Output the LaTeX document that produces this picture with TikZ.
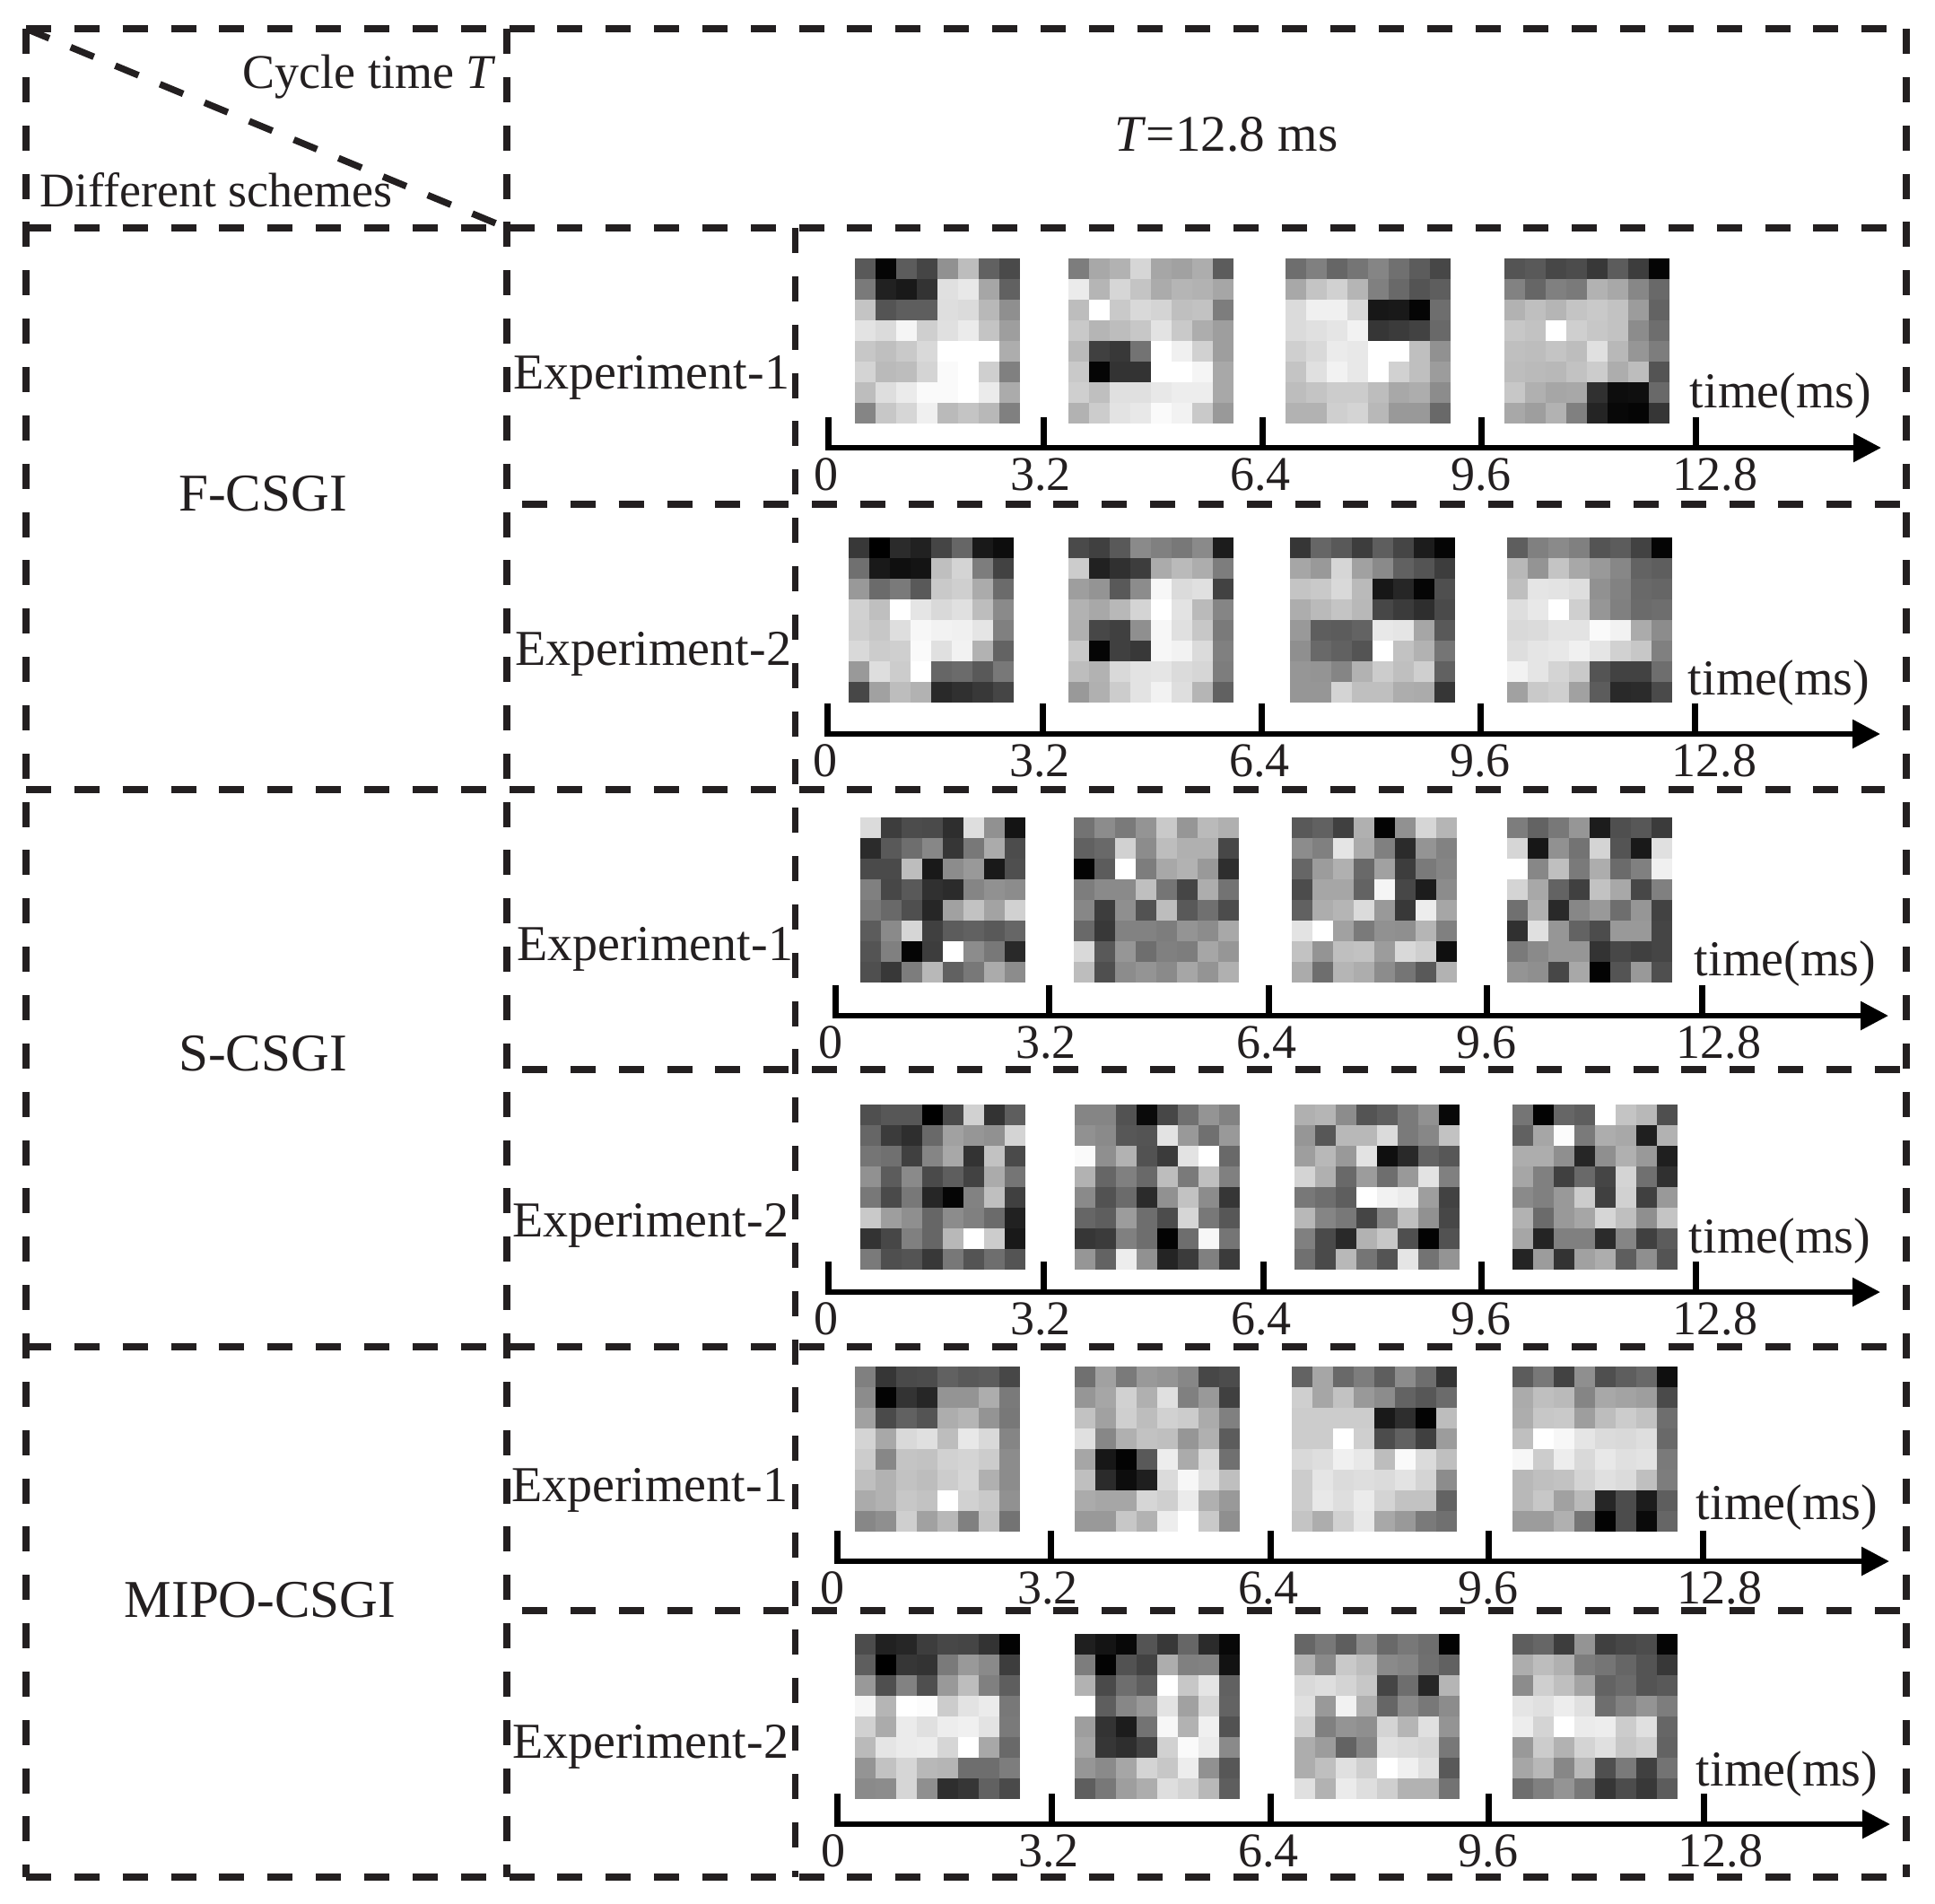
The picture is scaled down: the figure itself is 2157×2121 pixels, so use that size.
\documentclass[tikz,border=0pt]{standalone}
\usepackage{fontspec}
\setmainfont{Liberation Serif}
\usetikzlibrary{arrows.meta}
\definecolor{ink}{HTML}{231F20}
\tikzset{
  frameline/.style={draw=ink,line width=3.7pt,dash pattern=on 14pt off 12.925pt},
  axisline/.style={draw=black,line width=3pt,-{Triangle[length=15.5pt,width=15.5pt]}},
  tickline/.style={draw=black,line width=3.5pt},
  lbl/.style={inner sep=0pt,anchor=base,text=ink,font=\fontsize{28}{30}\selectfont},
  lblsmall/.style={lbl,font=\fontsize{27}{30}\selectfont},
  lblbig/.style={lbl,font=\fontsize{29.6}{32}\selectfont},
  lblmid/.style={lbl,font=\fontsize{28.6}{32}\selectfont},
}
\newcommand{\grayimg}[3]{%
  \foreach \v [count=\i from 0] in {#3} {%
    \pgfmathtruncatemacro\cx{mod(\i,8)}%
    \pgfmathtruncatemacro\cy{div(\i,8)}%
    \fill[white!\v!black] (#1+\cx*23,#2+\cy*23) rectangle ++(23.4,23.4);
  }}
\newcommand{\axtick}[6]{%
  \coordinate (tk#1#2a) at (#3,#4);
  \coordinate (tk#1#2b) at (#3,#4-34);
  \draw[tickline] (tk#1#2a) -- (tk#1#2b);
  \node[lblsmall] (lb#1#2) at (#3+#5,#4+47) {#6};
}
% row id, axis y, ticks t0..t3, tip x, zero label offset, 12.8 tick, 12.8 offset
\newcommand{\axisrow}[9]{%
  \coordinate (ax#1s) at (#3-3,#2);
  \coordinate (ax#1e) at (#7,#2);
  \draw[axisline] (ax#1s) -- (ax#1e);
  \axtick{#1}{a}{#3}{#2}{#8}{0}
  \axtick{#1}{b}{#4}{#2}{-3}{3.2}
  \axtick{#1}{c}{#5}{#2}{-2}{6.4}
  \axtick{#1}{d}{#6}{#2}{0}{9.6}
  \axtick{#1}{e}{#9}{#2}{\tlo}{12.8}
}
\begin{document}
\begin{tikzpicture}[x=0.5pt,y=-0.5pt]
\useasboundingbox (0,0) rectangle (2157,2121);
\fill[white] (0,0) rectangle (2157,2121);

% frame
\coordinate (tl) at (29,32); \coordinate (tm) at (565,32); \coordinate (tr) at (2125,32);
\coordinate (ml) at (29,254); \coordinate (mm) at (565,254); \coordinate (mr) at (2125,254);
\coordinate (bl) at (29,2092); \coordinate (bm) at (565,2092); \coordinate (br) at (2125,2092);
\coordinate (cx) at (886.5,254); \coordinate (cb) at (886.5,2092);
\draw[frameline] (tl) -- (tr);
\draw[frameline] (ml) -- (mr);
\draw[frameline] (bl) -- (br);
\draw[frameline] (tl) -- (bl);
\draw[frameline] (tm) -- (bm);
\draw[frameline] (cx) -- (cb);
\draw[frameline] (tr) -- (br);
\draw[frameline] (tl) -- (mm);
\coordinate (h1a) at (582,562); \coordinate (h1b) at (2125,562);
\coordinate (h2a) at (29,880); \coordinate (h2b) at (2101,880);
\coordinate (h3a) at (582,1192); \coordinate (h3b) at (2125,1192);
\coordinate (h4a) at (29,1501); \coordinate (h4b) at (2125,1501);
\coordinate (h5a) at (582,1795); \coordinate (h5b) at (2125,1795);
\draw[frameline] (h1a) -- (h1b);
\draw[frameline] (h2a) -- (h2b);
\draw[frameline] (h3a) -- (h3b);
\draw[frameline] (h4a) -- (h4b);
\draw[frameline] (h5a) -- (h5b);

% header labels
\node[lblsmall] (cyc) at (412,98) {Cycle time \textit{T}};
\node[lblmid] (tval) at (1367,168) {\textit{T}=12.8 ms};
\node[lblsmall] (dif) at (241,230) {Different schemes};
\node[lblbig] (sa) at (293,569) {F-CSGI};
\node[lblbig] (sb) at (293,1193) {S-CSGI};
\node[lblbig] (sc) at (290,1802) {MIPO-CSGI};
\node[lbl] (e1) at (726,433) {Experiment-1};
\node[lbl] (e2) at (728,741) {Experiment-2};
\node[lbl] (e3) at (730,1070) {Experiment-1};
\node[lbl] (e4) at (725,1378) {Experiment-2};
\node[lbl] (e5) at (724,1673) {Experiment-1};
\node[lbl] (e6) at (725,1959) {Experiment-2};

% axes
\def\tlo{22}
\axisrow{A}{499}{923}{1163}{1407}{1651}{2097}{-2}{1890}
\axisrow{B}{818}{922}{1162}{1406}{1650}{2096}{-2}{1889}
\def\tlo{19}
\axisrow{C}{1132}{931}{1169}{1414}{1657}{2105}{-5}{1897}
\def\tlo{22}
\axisrow{D}{1440}{923}{1163}{1408}{1651}{2096}{-2}{1890}
\def\tlo{19}
\axisrow{E}{1740}{933}{1171}{1416}{1659}{2106}{-5}{1898}
\axisrow{F}{2033}{933}{1172}{1416}{1659}{2107}{-4}{1899}
\node[lbl] (ta) at (1985,454) {time(ms)};
\node[lbl] (tb) at (1983,774) {time(ms)};
\node[lbl] (tc) at (1990,1087) {time(ms)};
\node[lbl] (td) at (1984,1396) {time(ms)};
\node[lbl] (te) at (1992,1693) {time(ms)};
\node[lbl] (tf) at (1992,1990) {time(ms)};

% row 1
\grayimg{953}{288}{35,2,36,27,57,74,38,29,48,13,10,20,88,91,65,38,77,33,37,37,87,86,72,56,89,86,96,81,88,92,77,62,78,75,79,85,100,100,100,68,83,73,74,83,98,100,81,50,74,87,92,98,98,100,92,67,52,78,84,94,73,77,72,50}
\grayimg{1191}{288}{49,66,70,84,65,63,68,36,92,71,84,77,67,71,70,65,74,100,79,85,83,75,76,49,79,71,74,78,89,79,68,62,73,25,22,45,100,94,82,62,79,2,20,20,100,100,96,66,81,75,88,88,91,93,93,66,70,80,89,91,98,95,79,60}
\grayimg{1433}{288}{43,50,40,46,52,44,36,28,66,77,82,71,50,41,33,37,86,94,94,85,9,10,2,43,86,88,90,95,21,23,26,41,81,85,92,91,100,100,75,57,77,88,95,91,100,82,75,61,74,77,80,80,74,66,68,55,70,70,81,83,72,60,60,41}
\grayimg{1677}{288}{33,35,28,30,22,36,24,2,51,40,50,48,70,66,53,41,70,75,71,77,79,76,61,39,78,76,100,81,78,76,55,43,75,74,77,74,88,72,59,49,74,73,72,76,80,68,74,33,78,69,65,66,19,5,6,41,66,62,70,50,14,3,2,21}
% row 2
\grayimg{946}{599}{22,0,17,13,27,40,10,5,44,10,6,8,75,83,49,26,60,42,48,35,79,81,67,42,82,75,100,90,85,88,74,54,81,78,87,97,95,94,90,50,85,80,81,98,88,95,70,39,60,87,80,100,40,42,35,47,28,63,74,70,16,19,22,27}
\grayimg{1191}{599}{29,25,35,54,50,47,54,11,80,13,19,24,67,73,68,49,62,58,35,55,97,86,88,26,70,66,72,83,100,89,73,52,69,28,25,56,97,88,78,48,79,2,25,22,97,95,86,50,74,70,85,89,90,86,84,49,60,69,80,89,95,87,71,38}
\grayimg{1438}{599}{21,40,35,24,37,27,11,2,65,60,84,63,54,38,33,24,77,79,85,73,9,15,2,31,68,73,77,72,28,23,18,29,60,37,36,39,91,90,65,35,56,41,38,33,100,76,70,46,59,58,52,70,80,75,81,38,59,59,83,75,75,68,67,21}
\grayimg{1680}{599}{37,50,54,50,33,36,26,2,72,58,77,66,60,53,39,37,75,90,89,87,57,51,41,40,87,91,100,81,59,50,42,43,85,86,89,89,98,95,67,55,87,90,91,94,90,82,78,50,95,90,83,79,33,26,26,43,63,79,81,63,36,16,17,29}
% row 3
\grayimg{959}{911}{86,24,30,29,18,87,57,8,17,35,43,53,21,47,67,30,29,29,74,10,55,60,10,31,50,28,35,19,17,52,57,55,47,41,31,15,63,76,64,82,36,54,84,25,36,38,35,40,33,50,2,24,100,55,47,16,31,22,49,72,38,47,67,55}
\grayimg{1197}{911}{45,55,48,58,79,59,73,69,38,41,82,55,74,69,69,28,1,36,100,49,66,70,60,18,49,54,54,75,46,27,68,45,53,24,56,32,74,35,44,30,41,22,51,51,49,58,55,66,85,35,59,43,50,49,65,59,74,31,55,58,54,65,58,69}
\grayimg{1440}{911}{35,38,25,69,1,57,84,71,55,50,90,67,50,17,58,51,40,61,69,41,63,24,48,52,30,65,65,39,96,28,11,55,38,68,71,86,60,22,93,65,89,100,63,48,57,56,71,50,76,58,75,76,61,85,81,6,67,43,71,68,55,46,35,70}
\grayimg{1680}{911}{49,39,47,59,11,31,34,23,84,9,57,45,83,33,10,88,100,53,75,48,68,42,50,94,83,66,39,25,76,66,28,50,44,69,16,53,60,43,59,26,19,88,59,39,30,60,60,27,48,54,59,59,20,28,25,27,58,56,28,66,1,33,60,31}
% row 4
\grayimg{959}{1231}{31,34,34,0,29,82,20,37,40,23,18,41,63,59,57,83,46,44,25,52,66,20,76,29,57,36,54,29,37,26,67,46,47,29,47,15,2,51,75,25,79,62,56,40,55,50,42,13,20,28,50,40,72,100,80,10,48,31,33,22,47,33,43,33}
\grayimg{1198}{1231}{52,52,32,4,28,44,58,51,57,54,34,33,89,60,44,60,98,56,70,32,23,89,100,41,70,40,50,41,74,48,75,50,54,32,42,17,57,76,55,21,40,37,61,43,30,84,47,34,21,23,50,43,1,43,97,46,59,39,93,57,14,23,50,23}
\grayimg{1443}{1231}{69,71,55,33,37,48,57,3,59,34,72,72,86,48,53,76,62,72,60,89,6,16,39,34,83,69,41,61,43,60,89,50,47,43,37,100,95,92,62,26,72,52,47,27,52,75,57,28,50,29,16,70,78,31,1,32,44,29,72,46,33,90,45,58}
\grayimg{1686}{1231}{46,1,40,37,100,77,72,31,38,65,99,48,68,66,12,70,68,68,56,15,56,69,60,12,65,50,25,41,27,83,44,19,54,50,60,80,25,82,25,60,70,42,60,65,84,75,56,77,65,14,50,50,17,52,25,36,14,61,20,63,68,37,56,33}
% row 5
\grayimg{953}{1523}{50,21,29,30,38,35,36,28,55,1,20,15,58,58,68,48,63,29,38,33,68,71,58,47,83,66,85,88,74,91,85,52,80,53,77,76,82,83,80,55,75,70,76,74,80,84,69,55,67,70,78,76,100,82,79,57,53,56,81,63,72,50,76,45}
\grayimg{1198}{1523}{44,63,48,60,58,53,28,30,59,65,82,69,88,50,60,25,76,63,81,74,82,80,67,50,88,53,69,76,75,59,69,36,65,9,1,35,93,67,85,44,75,17,5,12,86,97,88,75,67,65,65,84,81,92,69,60,60,60,78,70,93,100,79,56}
\grayimg{1440}{1523}{39,65,41,49,37,55,43,20,81,65,76,60,55,39,34,42,80,80,80,80,10,18,1,74,80,80,100,81,30,38,25,61,85,87,94,91,74,98,86,75,80,90,86,87,86,89,83,55,80,91,87,92,83,76,76,39,77,68,82,91,66,60,48,44}
\grayimg{1686}{1523}{36,47,26,56,31,37,41,6,67,75,73,52,66,64,62,29,68,78,79,62,74,80,76,43,75,100,97,90,86,85,87,41,97,80,93,85,91,88,89,48,72,75,76,83,88,86,75,49,72,78,63,73,15,30,11,37,61,61,69,46,1,30,4,40}
% row 6
\grayimg{953}{1821}{30,13,15,24,28,27,20,1,37,0,21,20,48,60,54,24,60,31,51,31,60,74,50,37,96,71,100,99,80,89,92,47,82,67,92,88,93,94,89,48,73,90,92,93,84,100,66,41,58,76,84,72,71,43,43,49,54,55,84,56,18,21,38,29}
\grayimg{1198}{1821}{12,8,3,33,22,40,17,3,49,1,32,26,68,50,51,7,70,29,43,37,100,78,90,38,100,37,53,60,89,63,84,39,62,20,11,45,97,70,94,32,65,21,18,26,82,98,92,54,59,54,65,83,78,93,57,34,37,47,62,68,87,83,72,37}
\grayimg{1443}{1821}{40,47,37,54,41,47,43,1,70,54,79,74,54,52,44,38,85,87,83,78,27,43,15,71,88,60,95,69,40,54,47,55,82,50,58,56,83,71,88,58,68,61,39,52,88,86,84,47,68,75,88,81,100,94,88,35,88,70,92,87,81,70,70,45}
\grayimg{1686}{1821}{37,40,24,58,25,28,30,2,68,74,69,49,46,40,33,22,55,81,75,64,39,42,33,35,90,88,93,88,43,51,58,49,93,83,100,92,93,80,88,40,60,80,70,83,88,78,81,39,65,72,53,73,31,48,25,45,43,50,58,47,21,30,22,36}
\end{tikzpicture}
\end{document}
